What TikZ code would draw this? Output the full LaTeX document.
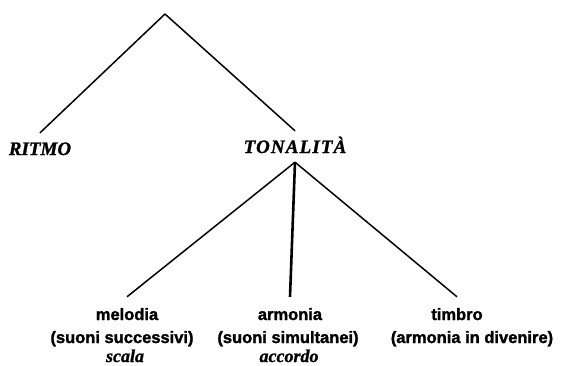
\documentclass[tikz,border=0pt]{standalone}
\usepackage{fontspec}
\setmainfont{Liberation Sans}[BoldFeatures={FakeBold=1.6}]
\newfontfamily\seriffam{Liberation Serif}[BoldItalicFeatures={FakeBold=1.2}]
\begin{document}
\begin{tikzpicture}[x=1pt,y=-1pt,
  capital/.style={font=\seriffam\bfseries\itshape\fontsize{19}{19}\selectfont,
    text height=13pt, text depth=0pt, inner xsep=0pt, inner ysep=9pt},
  word/.style={font=\bfseries\fontsize{16.5}{16.5}\selectfont,
    text height=10pt, text depth=3pt, inner xsep=0pt, inner ysep=13pt, anchor=base},
  gloss/.style={font=\bfseries\fontsize{16.5}{16.5}\selectfont,
    inner sep=0pt, anchor=base},
  note/.style={font=\seriffam\bfseries\itshape\fontsize{18}{18}\selectfont,
    inner sep=0pt, anchor=base},
  branch/.style={line width=1.5pt},
  stem/.style={line width=2.6pt}]
\useasboundingbox (0,0) rectangle (562,365);
\coordinate (apex) at (165,14);
\node[capital] (ritmo) at (40,148.5) {RITMO};
\node[capital] (tonalita) at (295,146.5) {\addfontfeature{LetterSpace=6}TONALITÀ};
\node[word] (melodia) at (127,320) {melodia};
\node[word] (armonia) at (290,320) {armonia};
\node[word] (timbro) at (457,320) {timbro};
\node[gloss] (g1) at (122,343) {(suoni successivi)};
\node[gloss] (g2) at (288,343) {(suoni simultanei)};
\node[gloss] (g3) at (472,343) {(armonia in divenire)};
\node[note] (n1) at (125,362) {scala};
\node[note] (n2) at (289,362) {accordo};
\draw[branch] (apex) -- (ritmo.north);
\draw[branch] (apex) -- (tonalita.north);
\draw[branch] (tonalita.south) -- (melodia.north);
\draw[stem] (tonalita.south) -- (armonia.north);
\draw[branch] (tonalita.south) -- (timbro.north);
\end{tikzpicture}
\end{document}
